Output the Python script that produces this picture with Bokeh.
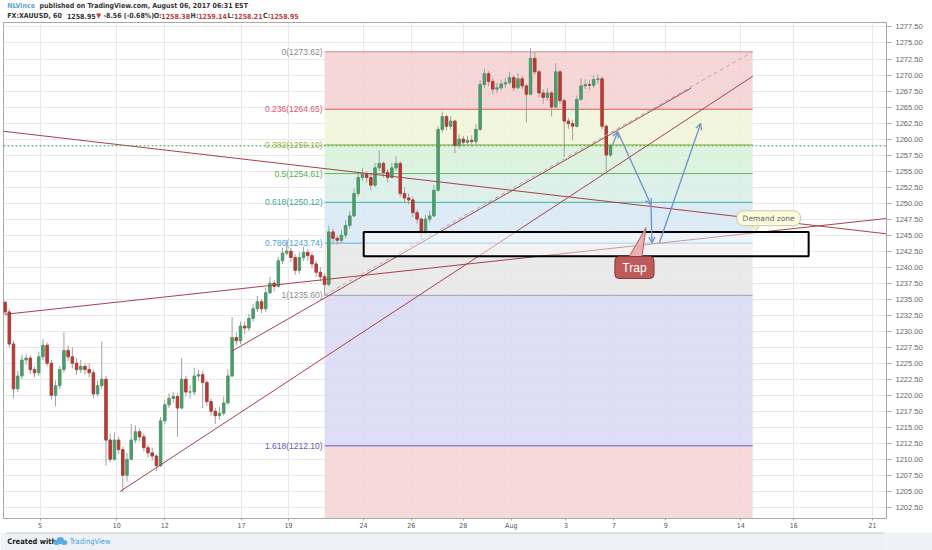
from bokeh.plotting import figure
from bokeh.layouts import column
from bokeh.models import (FixedTicker, Label, BoxAnnotation, Arrow, OpenHead, Span,
                          Range1d, PrintfTickFormatter)
from bokeh.embed import file_html
from bokeh.resources import INLINE
from bokeh.core.properties import value

# ---------------- data (XAUUSD; 4h steps) ----------------
first_open = 1234.5
closes = [
    1233.0, 1228.0, 1221.0, 1223.0, 1225.5, 1225.8, 1224.0, 1223.5, 1226.0, 1227.8,
    1225.0, 1220.0, 1221.5, 1224.0, 1227.0, 1226.0, 1225.0, 1224.0, 1224.5, 1224.0,
    1223.5, 1220.2, 1221.5, 1222.5, 1213.0, 1210.0, 1213.0, 1211.5, 1207.5, 1210.0,
    1213.0, 1214.3, 1213.5, 1211.8, 1211.0, 1210.5, 1209.0, 1216.0, 1218.5, 1219.5,
    1219.8, 1218.0, 1222.5, 1220.5, 1220.5, 1223.0, 1223.2, 1222.0, 1219.0, 1217.5,
    1216.8, 1217.2, 1218.8, 1223.0, 1229.0, 1228.5, 1230.8, 1230.5, 1232.0, 1233.5,
    1234.6, 1233.5, 1236.0, 1237.5, 1237.0, 1241.0, 1242.2, 1242.5, 1241.5, 1239.5,
    1241.5, 1242.3, 1241.8, 1240.5, 1239.2, 1238.5, 1237.3, 1245.5, 1244.5, 1244.2,
    1245.0, 1246.5, 1248.0, 1251.5, 1254.0, 1254.5, 1254.0, 1252.8, 1255.5, 1256.2,
    1254.8, 1254.0, 1255.5, 1256.2, 1251.5, 1250.8, 1250.5, 1248.5, 1247.5, 1245.5,
    1247.5, 1248.0, 1252.0, 1261.5, 1263.5, 1262.0, 1262.8, 1259.0, 1260.0, 1259.5,
    1259.8, 1259.6, 1261.5, 1268.5, 1270.2, 1269.0, 1267.8, 1268.0, 1268.6, 1268.8,
    1269.6, 1268.0, 1269.4, 1268.3, 1267.0, 1272.6, 1270.5, 1267.2, 1266.5, 1267.2,
    1265.0, 1270.5, 1266.0, 1262.8, 1262.4, 1262.0, 1266.2, 1268.3, 1268.5, 1268.4,
    1269.3, 1269.4, 1262.0, 1257.5, 1258.95]
highs = [
    1234.8, 1233.5, 1228.5, 1223.8, 1226.3, 1226.5, 1226.2, 1224.5, 1226.8, 1228.8,
    1228.2, 1225.5, 1222.3, 1224.6, 1229.8, 1227.8, 1227.5, 1225.8, 1225.5, 1225.0,
    1225.0, 1224.0, 1222.3, 1228.4, 1223.0, 1214.0, 1214.2, 1213.5, 1212.0, 1211.0,
    1215.5, 1215.3, 1214.8, 1214.0, 1212.3, 1211.8, 1210.8, 1216.6, 1219.2, 1220.3,
    1220.5, 1220.3, 1225.8, 1223.0, 1221.5, 1224.3, 1224.0, 1223.8, 1222.3, 1219.5,
    1218.0, 1218.2, 1219.8, 1224.0, 1232.2, 1229.8, 1231.5, 1231.5, 1232.7, 1234.2,
    1235.5, 1235.0, 1236.8, 1238.5, 1238.0, 1241.6, 1243.0, 1244.2, 1243.0, 1242.0,
    1242.3, 1243.2, 1242.8, 1242.3, 1241.0, 1240.0, 1239.0, 1246.5, 1246.0, 1245.0,
    1245.8, 1247.3, 1248.8, 1252.3, 1254.8, 1255.5, 1255.0, 1254.5, 1256.3, 1258.2,
    1256.5, 1255.3, 1256.3, 1257.3, 1256.5, 1252.5, 1251.5, 1251.0, 1249.0, 1247.8,
    1248.2, 1248.8, 1252.8, 1262.0, 1264.3, 1263.8, 1263.6, 1263.0, 1260.8, 1260.5,
    1260.5, 1260.6, 1262.3, 1269.2, 1271.0, 1270.6, 1269.5, 1268.8, 1269.3, 1269.5,
    1270.5, 1270.0, 1270.3, 1269.8, 1268.6, 1274.2, 1273.6, 1270.8, 1267.8, 1268.0,
    1267.5, 1271.8, 1270.8, 1266.3, 1263.3, 1263.0, 1266.8, 1269.5, 1269.3, 1269.2,
    1270.0, 1270.1, 1269.8, 1262.3, 1259.3]
lows = [
    1232.5, 1227.5, 1219.5, 1220.5, 1222.5, 1224.8, 1223.3, 1222.8, 1223.0, 1225.5,
    1224.5, 1219.3, 1218.3, 1221.0, 1223.5, 1225.3, 1224.2, 1223.2, 1223.5, 1223.2,
    1222.8, 1219.5, 1219.8, 1221.0, 1209.0, 1209.5, 1209.8, 1210.8, 1204.8, 1206.5,
    1209.8, 1212.5, 1212.8, 1211.2, 1210.3, 1209.8, 1208.2, 1208.8, 1215.5, 1218.0,
    1218.8, 1213.5, 1217.8, 1219.8, 1219.5, 1220.0, 1222.2, 1218.0, 1218.3, 1216.8,
    1215.5, 1216.2, 1216.8, 1218.5, 1222.8, 1227.8, 1228.0, 1229.5, 1230.0, 1231.5,
    1233.0, 1232.8, 1233.0, 1235.8, 1236.2, 1236.8, 1240.5, 1241.8, 1240.8, 1238.8,
    1239.0, 1241.0, 1241.0, 1239.8, 1238.5, 1237.8, 1235.6, 1237.0, 1243.5, 1243.5,
    1243.8, 1244.5, 1246.0, 1247.8, 1251.0, 1253.5, 1253.2, 1252.0, 1252.5, 1255.0,
    1254.0, 1253.2, 1253.8, 1255.0, 1251.0, 1250.0, 1249.8, 1247.8, 1246.8, 1244.3,
    1245.0, 1247.0, 1247.8, 1251.8, 1261.0, 1261.3, 1261.5, 1257.8, 1258.5, 1258.8,
    1259.0, 1258.8, 1259.2, 1261.3, 1268.0, 1268.2, 1267.0, 1267.2, 1267.6, 1268.0,
    1268.5, 1267.5, 1267.8, 1267.8, 1262.6, 1266.8, 1270.0, 1266.5, 1265.5, 1266.0,
    1263.5, 1264.8, 1265.5, 1257.2, 1261.6, 1259.8, 1261.8, 1266.0, 1267.8, 1267.6,
    1268.0, 1268.6, 1261.5, 1254.9, 1257.2]
t_first = 0.613          # trading-day index of the first bar
t_step = 1.0 / 6.0       # 4 hours

price_ticks = [1202.5, 1205.0, 1207.5, 1210.0, 1212.5, 1215.0, 1217.5, 1220.0, 1222.5,
               1225.0, 1227.5, 1230.0, 1232.5, 1235.0, 1237.5, 1240.0, 1242.5, 1245.0,
               1247.5, 1250.0, 1252.5, 1255.0, 1257.5, 1260.0, 1262.5, 1265.0, 1267.5,
               1270.0, 1272.5, 1275.0, 1277.5]
date_ticks = [2.0, 5.04, 6.94, 9.99, 11.85, 14.82, 16.72, 18.78, 20.68, 22.85, 24.75,
              26.81, 29.78, 31.88, 35.0]
date_labels = ["5", "10", "12", "17", "19", "24", "26", "28", "Aug", "3", "7", "9",
               "14", "16", "21"]

fib_ratios = ["0", "0.236", "0.382", "0.5", "0.618", "0.786", "1", "1.618"]
fib_prices = [1273.62, 1264.65, 1259.10, 1254.61, 1250.12, 1243.74, 1235.60, 1212.10, 1174.08]
fib_t0, fib_t1 = 13.28, 30.25

last_price = 1258.95
last_change = "-8.56 (-0.68%)"
ohlc_last = ["1258.38", "1259.14", "1258.21", "1258.95"]

# trend lines (t0, p0, t1, p1)
line_desc = (0.495, 1261.24, 35.557, 1245.2)
line_asc = (0.613, 1232.63, 35.557, 1247.6)
line_a = (9.596, 1226.87, 27.80, 1267.93)
line_b = (5.164, 1204.95, 30.253, 1269.80)

demand_box = (14.83, 32.47, 1241.70, 1245.49)      # left, right, bottom, top
arrows = [(24.70, 1259.07, 24.90, 1261.14),
          (24.90, 1261.14, 26.22, 1249.74),
          (26.22, 1249.74, 26.26, 1243.78),
          (26.55, 1243.78, 28.19, 1262.44)]

# ---------------- styles ----------------
NARROW = "DejaVu Sans Condensed"
SANS = "Liberation Sans"
UP, DOWN, WICK = "#4f9a6b", "#b23c36", "#a0a0a0"
band_colors = ["#f4d0d1", "#eef4d7", "#d7f0d9", "#d7efe6", "#d7e8f5", "#e6e6e6",
               "#d8d8f4", "#f5d4d4"]
level_colors = ["#c98a8a", "#e05a5a", "#9ab83c", "#5cb85c", "#45b3a0", "#5aaede",
                "#a0a0a0", "#6656c4"]
label_colors = ["#8a8a8a", "#e0566a", "#98b83a", "#4cb050", "#3aaa98", "#4aa6d8",
                "#8a8a8a", "#6656c4"]
TREND = "#a8404c"
W = 932

# ---------------- header ----------------
h = figure(width=W, height=22, x_range=Range1d(0, W), y_range=Range1d(22, 0),
           output_backend="svg", toolbar_location=None, x_axis_location=None,
           y_axis_location=None, min_border=0)
h.grid.visible = False
h.outline_line_color = None
h.background_fill_color = "white"
h.border_fill_color = "white"
hdr1 = [(4, "NLVince", "#5aa3dc"),
        (38, "published on TradingView.com, August 06, 2017 06:31 EST", "#333333")]
hdr2 = [(4, "FX:XAUUSD, 60", "#333333"), (67, f"{last_price:.2f}", "#333333"),
        (98, "\u25bc", "#c23b3b"), (105.5, last_change, "#333333"),
        (158.5, "O:", "#333333"), (166.6, ohlc_last[0], "#c23b3b"),
        (197.5, "H:", "#333333"), (205.5, ohlc_last[1], "#c23b3b"),
        (236.5, "L:", "#333333"), (243.2, ohlc_last[2], "#c23b3b"),
        (274.0, "C:", "#333333"), (281.3, ohlc_last[3], "#c23b3b")]
for yy, items in ((5.5, hdr1), (15.5, hdr2)):
    h.text(x=[it[0] for it in items], y=[yy] * len(items), text=[it[1] for it in items],
           text_color=[it[2] for it in items], text_baseline="middle",
           text_font=value(NARROW), text_font_style="bold", text_font_size="7px")

# ---------------- main chart ----------------
p = figure(width=W, height=510, x_range=Range1d(0.55, 35.557),
           y_range=Range1d(1200.75, 1278.20), output_backend="svg",
           toolbar_location=None, y_axis_location="right",
           min_border_left=3, min_border_right=46, min_border_top=0, min_border_bottom=12)
p.outline_line_color = "#a8a8a8"
p.background_fill_color = "white"
p.border_fill_color = "white"

p.yaxis.ticker = FixedTicker(ticks=price_ticks)
p.yaxis.formatter = PrintfTickFormatter(format="%.2f")
p.yaxis.major_label_text_font = SANS
p.yaxis.major_label_text_font_size = "7.5px"
p.yaxis.major_label_text_color = "#666666"
p.yaxis.axis_line_color = "#a8a8a8"
p.yaxis.major_tick_line_color = "#a8a8a8"
p.yaxis.major_tick_in = 0
p.yaxis.major_tick_out = 5
p.yaxis.minor_tick_line_color = None
p.yaxis.major_label_standoff = 4

p.xaxis.ticker = FixedTicker(ticks=date_ticks)
p.xaxis.major_label_overrides = {t: l for t, l in zip(date_ticks, date_labels)}
p.xaxis.major_label_text_font = NARROW
p.xaxis.major_label_text_font_size = "7px"
p.xaxis.major_label_text_color = "#555555"
p.xaxis.axis_line_color = "#a8a8a8"
p.xaxis.major_tick_line_color = "#a8a8a8"
p.xaxis.major_tick_in = 0
p.xaxis.major_tick_out = 2
p.xaxis.minor_tick_line_color = None
p.xaxis.major_label_standoff = 1

p.xgrid.ticker = FixedTicker(ticks=date_ticks)
p.ygrid.ticker = FixedTicker(ticks=price_ticks)
p.grid.grid_line_color = "#e9e9e9"

# fibonacci bands + levels
for k in range(8):
    p.quad(left=[fib_t0], right=[fib_t1], top=[fib_prices[k]], bottom=[fib_prices[k + 1]],
           fill_color=band_colors[k], fill_alpha=0.85, line_color=None)
p.segment(x0=[fib_t0] * 8, y0=fib_prices[:8], x1=[fib_t1] * 8, y1=fib_prices[:8],
          line_color=level_colors, line_width=1)
p.text(x=[fib_t0] * 8, y=fib_prices[:8],
       text=[f"{r}({v:.2f})" for r, v in zip(fib_ratios, fib_prices[:8])],
       text_align="right", text_baseline="middle", x_offset=-2,
       text_font=value(SANS), text_font_size="8.5px", text_color=label_colors)

# candles
n = len(closes)
ts = [t_first + i * t_step for i in range(n)]
opens = [first_open] + closes[:-1]
cols = [UP if c >= o else DOWN for o, c in zip(opens, closes)]
p.segment(x0=ts, y0=highs, x1=ts, y1=lows, line_color=WICK, line_width=1)
p.vbar(x=ts, width=0.1, top=[max(o, c) for o, c in zip(opens, closes)],
       bottom=[min(o, c) for o, c in zip(opens, closes)], fill_color=cols, line_color=cols)

# trend lines
for (a, b, c, d) in (line_desc, line_asc, line_a, line_b):
    p.segment(x0=[a], y0=[b], x1=[c], y1=[d], line_color=TREND, line_width=1)
p.segment(x0=[fib_t0], y0=[fib_prices[6]], x1=[fib_t1], y1=[fib_prices[0]],
          line_color="#aaaaaa", line_width=1, line_dash="4 3")

# last price line
p.add_layout(Span(location=last_price, dimension="width", line_color="#3f9a5e",
                  line_width=1, line_dash="2 2"))

# demand zone rectangle
l, r, b, t = demand_box
p.quad(left=[l], right=[r], bottom=[b], top=[t], fill_color="white", fill_alpha=0.45,
       line_color="black", line_width=2)

# arrows
for (x0, y0, x1, y1) in arrows:
    p.add_layout(Arrow(end=OpenHead(size=6, line_color="#6f92c6", line_width=1.3),
                       x_start=x0, y_start=y0, x_end=x1, y_end=y1,
                       line_color="#6f92c6", line_width=1.3))

# "Demand zone" callout
p.patch([30.17, 30.49, 30.41], [1246.6, 1246.6, 1245.69], fill_color="#fcfbe0",
        line_color="#c9c79a", line_width=1)
p.add_layout(BoxAnnotation(left=29.62, right=32.15, bottom=1246.47, top=1248.80,
                           fill_color="#fcfbe0", fill_alpha=1, line_color="#c9c79a",
                           line_alpha=1, line_width=1, border_radius=7))
p.add_layout(Label(x=30.885, y=1247.64, text="Demand zone", text_align="center",
                   text_baseline="middle", text_font="DejaVu Sans",
                   text_font_size="7.5px", text_color="#666666"))

# "Trap" callout
p.patch([25.35, 25.86, 26.02], [1241.6, 1241.6, 1246.16], fill_color="#e8b0b0",
        line_color="#b85a5a", line_width=1)
p.add_layout(BoxAnnotation(left=24.79, right=26.34, bottom=1238.23, top=1241.65,
                           fill_color="#bd5a5a", fill_alpha=1, line_color="#8e3434",
                           line_alpha=1, line_width=1, border_radius=4))
p.add_layout(Label(x=25.565, y=1239.94, text="Trap", text_align="center",
                   text_baseline="middle", text_font=SANS, text_font_size="12px",
                   text_color="white"))

# last price tag on the axis
p.add_layout(Label(x=35.557, y=last_price, x_offset=2, text=f"{last_price:.2f} ",
                   text_baseline="middle", text_font=SANS, text_font_size="7.5px",
                   text_color="white", background_fill_color="#3f9a5e",
                   background_fill_alpha=1, padding=2))

# ---------------- footer ----------------
f = figure(width=W, height=18, x_range=Range1d(0, W), y_range=Range1d(18, 0),
           output_backend="svg", toolbar_location=None, x_axis_location=None,
           y_axis_location=None, min_border=0)
f.grid.visible = False
f.outline_line_color = None
f.background_fill_color = "#eef2f7"
f.border_fill_color = "#eef2f7"
f.segment(x0=[3], y0=[0.5], x1=[929], y1=[0.5], line_color="#b8b8b8", line_width=1)
f.text(x=[4], y=[9], text=["Created with"], text_baseline="middle",
       text_font=value(NARROW), text_font_style="bold", text_font_size="7.5px",
       text_color="#222222")
f.ellipse(x=[56, 60, 64], y=[10, 8, 10], width=[7, 8, 7], height=[5, 7, 5],
          fill_color="#5aaee6", line_color=None)
f.text(x=[70], y=[9], text=["TradingView"], text_baseline="middle",
       text_font=value(NARROW), text_font_size="7.5px", text_color="#3d9ee0")

layout = column(h, p, f, spacing=0)
open("out.html", "w").write(file_html(layout, INLINE))
